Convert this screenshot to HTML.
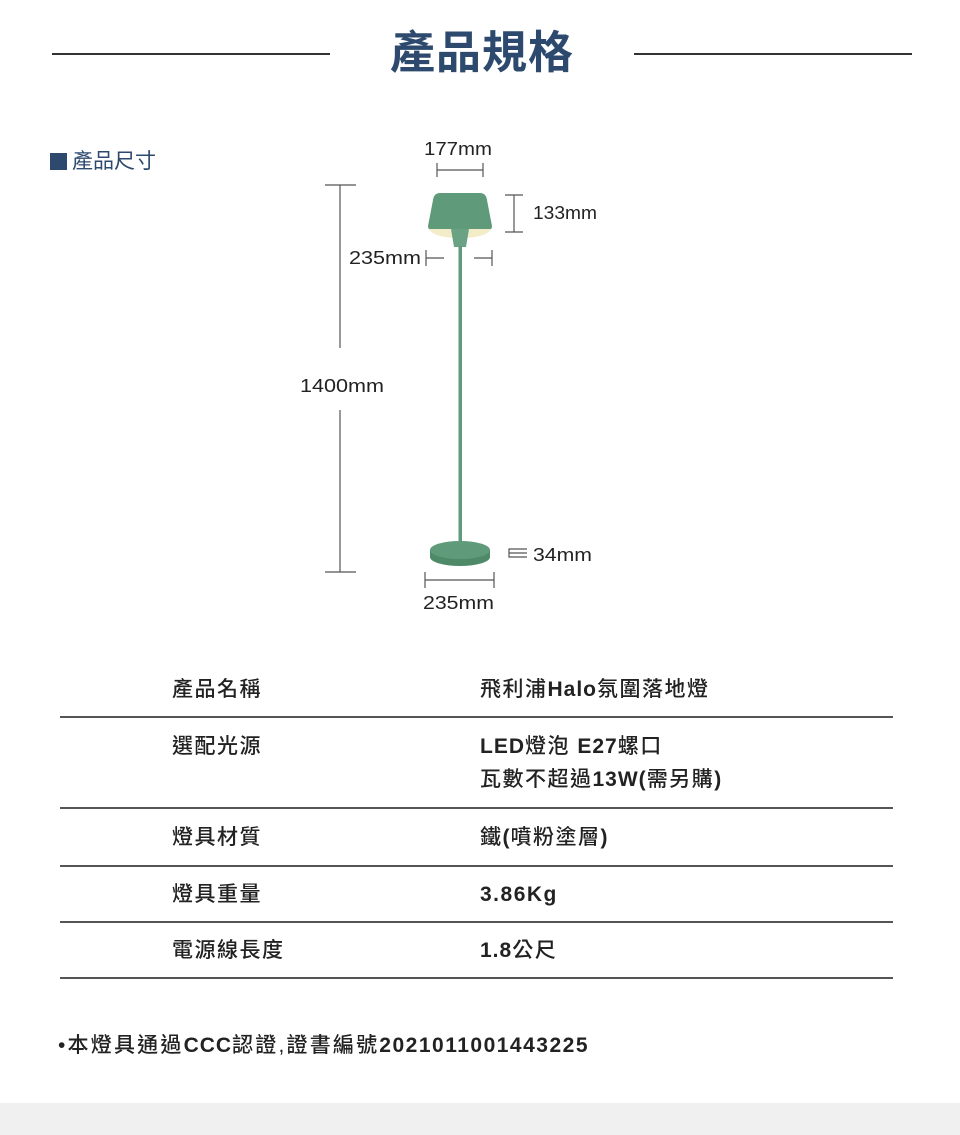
<!DOCTYPE html>
<html><head><meta charset="utf-8"><style>
body{margin:0;width:960px;height:1135px;background:#fff;position:relative;overflow:hidden;font-family:"Liberation Sans","Noto Sans CJK TC",sans-serif;}
.a{position:absolute;white-space:nowrap;}
.t{font-size:21px;color:#222;font-weight:500;letter-spacing:1.5px;line-height:26px;}
.t b{letter-spacing:1px}
.hr{position:absolute;left:60px;width:833px;height:2px;background:#555;}
</style></head><body>
<div class="a" style="left:52px;top:53px;width:278px;height:2px;background:#333"></div>
<div class="a" style="left:634px;top:53px;width:278px;height:2px;background:#333"></div>
<div class="a" style="left:390px;top:24px;font-size:45px;font-weight:bold;color:#2d4a6e;line-height:58px;letter-spacing:1px">產品規格</div>
<div class="a" style="left:50px;top:153px;width:17px;height:17px;background:#2d4a6e"></div>
<div class="a" style="left:72px;top:148px;font-size:21px;color:#2d4a6e;line-height:28px">產品尺寸</div>

<svg class="a" style="left:0;top:0" width="960" height="640">
<g stroke="#555" stroke-width="1.2" fill="none">
<line x1="325" y1="185" x2="356" y2="185"/><line x1="325" y1="572" x2="356" y2="572"/>
<line x1="340" y1="185" x2="340" y2="348"/><line x1="340" y1="410" x2="340" y2="572"/>
<line x1="437" y1="163" x2="437" y2="177"/><line x1="483" y1="163" x2="483" y2="177"/><line x1="437" y1="170" x2="483" y2="170"/>
<line x1="505" y1="195" x2="523" y2="195"/><line x1="505" y1="232" x2="523" y2="232"/><line x1="514" y1="195" x2="514" y2="232"/>
<line x1="426" y1="250" x2="426" y2="266"/><line x1="426" y1="258" x2="444" y2="258"/>
<line x1="492" y1="250" x2="492" y2="266"/><line x1="474" y1="258" x2="492" y2="258"/>
<line x1="425" y1="572" x2="425" y2="588"/><line x1="494" y1="572" x2="494" y2="588"/><line x1="425" y1="580" x2="494" y2="580"/>
<path d="M527 549H509V557H527M509 553H527"/>
</g>
<path d="M440 193H480Q486 193 487 200L492 226Q492 230 488 230H432Q428 230 428 226L433 200Q434 193 440 193Z" fill="#5f9a7a"/>
<path d="M429 229H491Q486 238 460 238Q434 238 429 229Z" fill="#f3ecc8"/>
<path d="M451 229H469L466 247H454Z" fill="#6aa383"/>
<rect x="458.5" y="246" width="3.5" height="300" fill="#5f9a7a"/>
<ellipse cx="460" cy="557" rx="30" ry="9" fill="#4f8a68"/>
<rect x="430" y="550" width="60" height="7" fill="#4f8a68"/>
<ellipse cx="460" cy="550" rx="30" ry="9" fill="#5f9a7a"/>
<g font-family="Liberation Sans, sans-serif" font-size="18" fill="#222">
<text x="424" y="155" textLength="68" lengthAdjust="spacingAndGlyphs">177mm</text>
<text x="533" y="219" textLength="64" lengthAdjust="spacingAndGlyphs">133mm</text>
<text x="349" y="264" textLength="72" lengthAdjust="spacingAndGlyphs">235mm</text>
<text x="300" y="392" textLength="84" lengthAdjust="spacingAndGlyphs">1400mm</text>
<text x="533" y="561" textLength="59" lengthAdjust="spacingAndGlyphs">34mm</text>
<text x="423" y="609" textLength="71" lengthAdjust="spacingAndGlyphs">235mm</text>
</g>
</svg>

<div class="a t" style="left:172px;top:677px">產品名稱</div>
<div class="a t" style="left:480px;top:677px">飛利浦<b>Halo</b>氛圍落地燈</div>
<div class="hr" style="top:716px"></div>
<div class="a t" style="left:172px;top:734px">選配光源</div>
<div class="a t" style="left:480px;top:734px"><b>LED</b>燈泡 <b>E27</b>螺口</div>
<div class="a t" style="left:480px;top:767px">瓦數不超過<b>13W(</b>需另購<b>)</b></div>
<div class="hr" style="top:807px"></div>
<div class="a t" style="left:172px;top:825px">燈具材質</div>
<div class="a t" style="left:480px;top:825px">鐵<b>(</b>噴粉塗層<b>)</b></div>
<div class="hr" style="top:865px"></div>
<div class="a t" style="left:172px;top:882px">燈具重量</div>
<div class="a t" style="left:480px;top:882px;font-weight:bold">3.86Kg</div>
<div class="hr" style="top:921px"></div>
<div class="a t" style="left:172px;top:938px">電源線長度</div>
<div class="a t" style="left:480px;top:938px"><b>1.8</b>公尺</div>
<div class="hr" style="top:977px"></div>
<div class="a t" style="left:58px;top:1033px;letter-spacing:2.2px">•本燈具通過<b>CCC</b>認證,證書編號<b style="letter-spacing:1.5px">2021011001443225</b></div>
<div class="a" style="left:0;top:1103px;width:960px;height:32px;background:#f0f0f0"></div>
</body></html>
